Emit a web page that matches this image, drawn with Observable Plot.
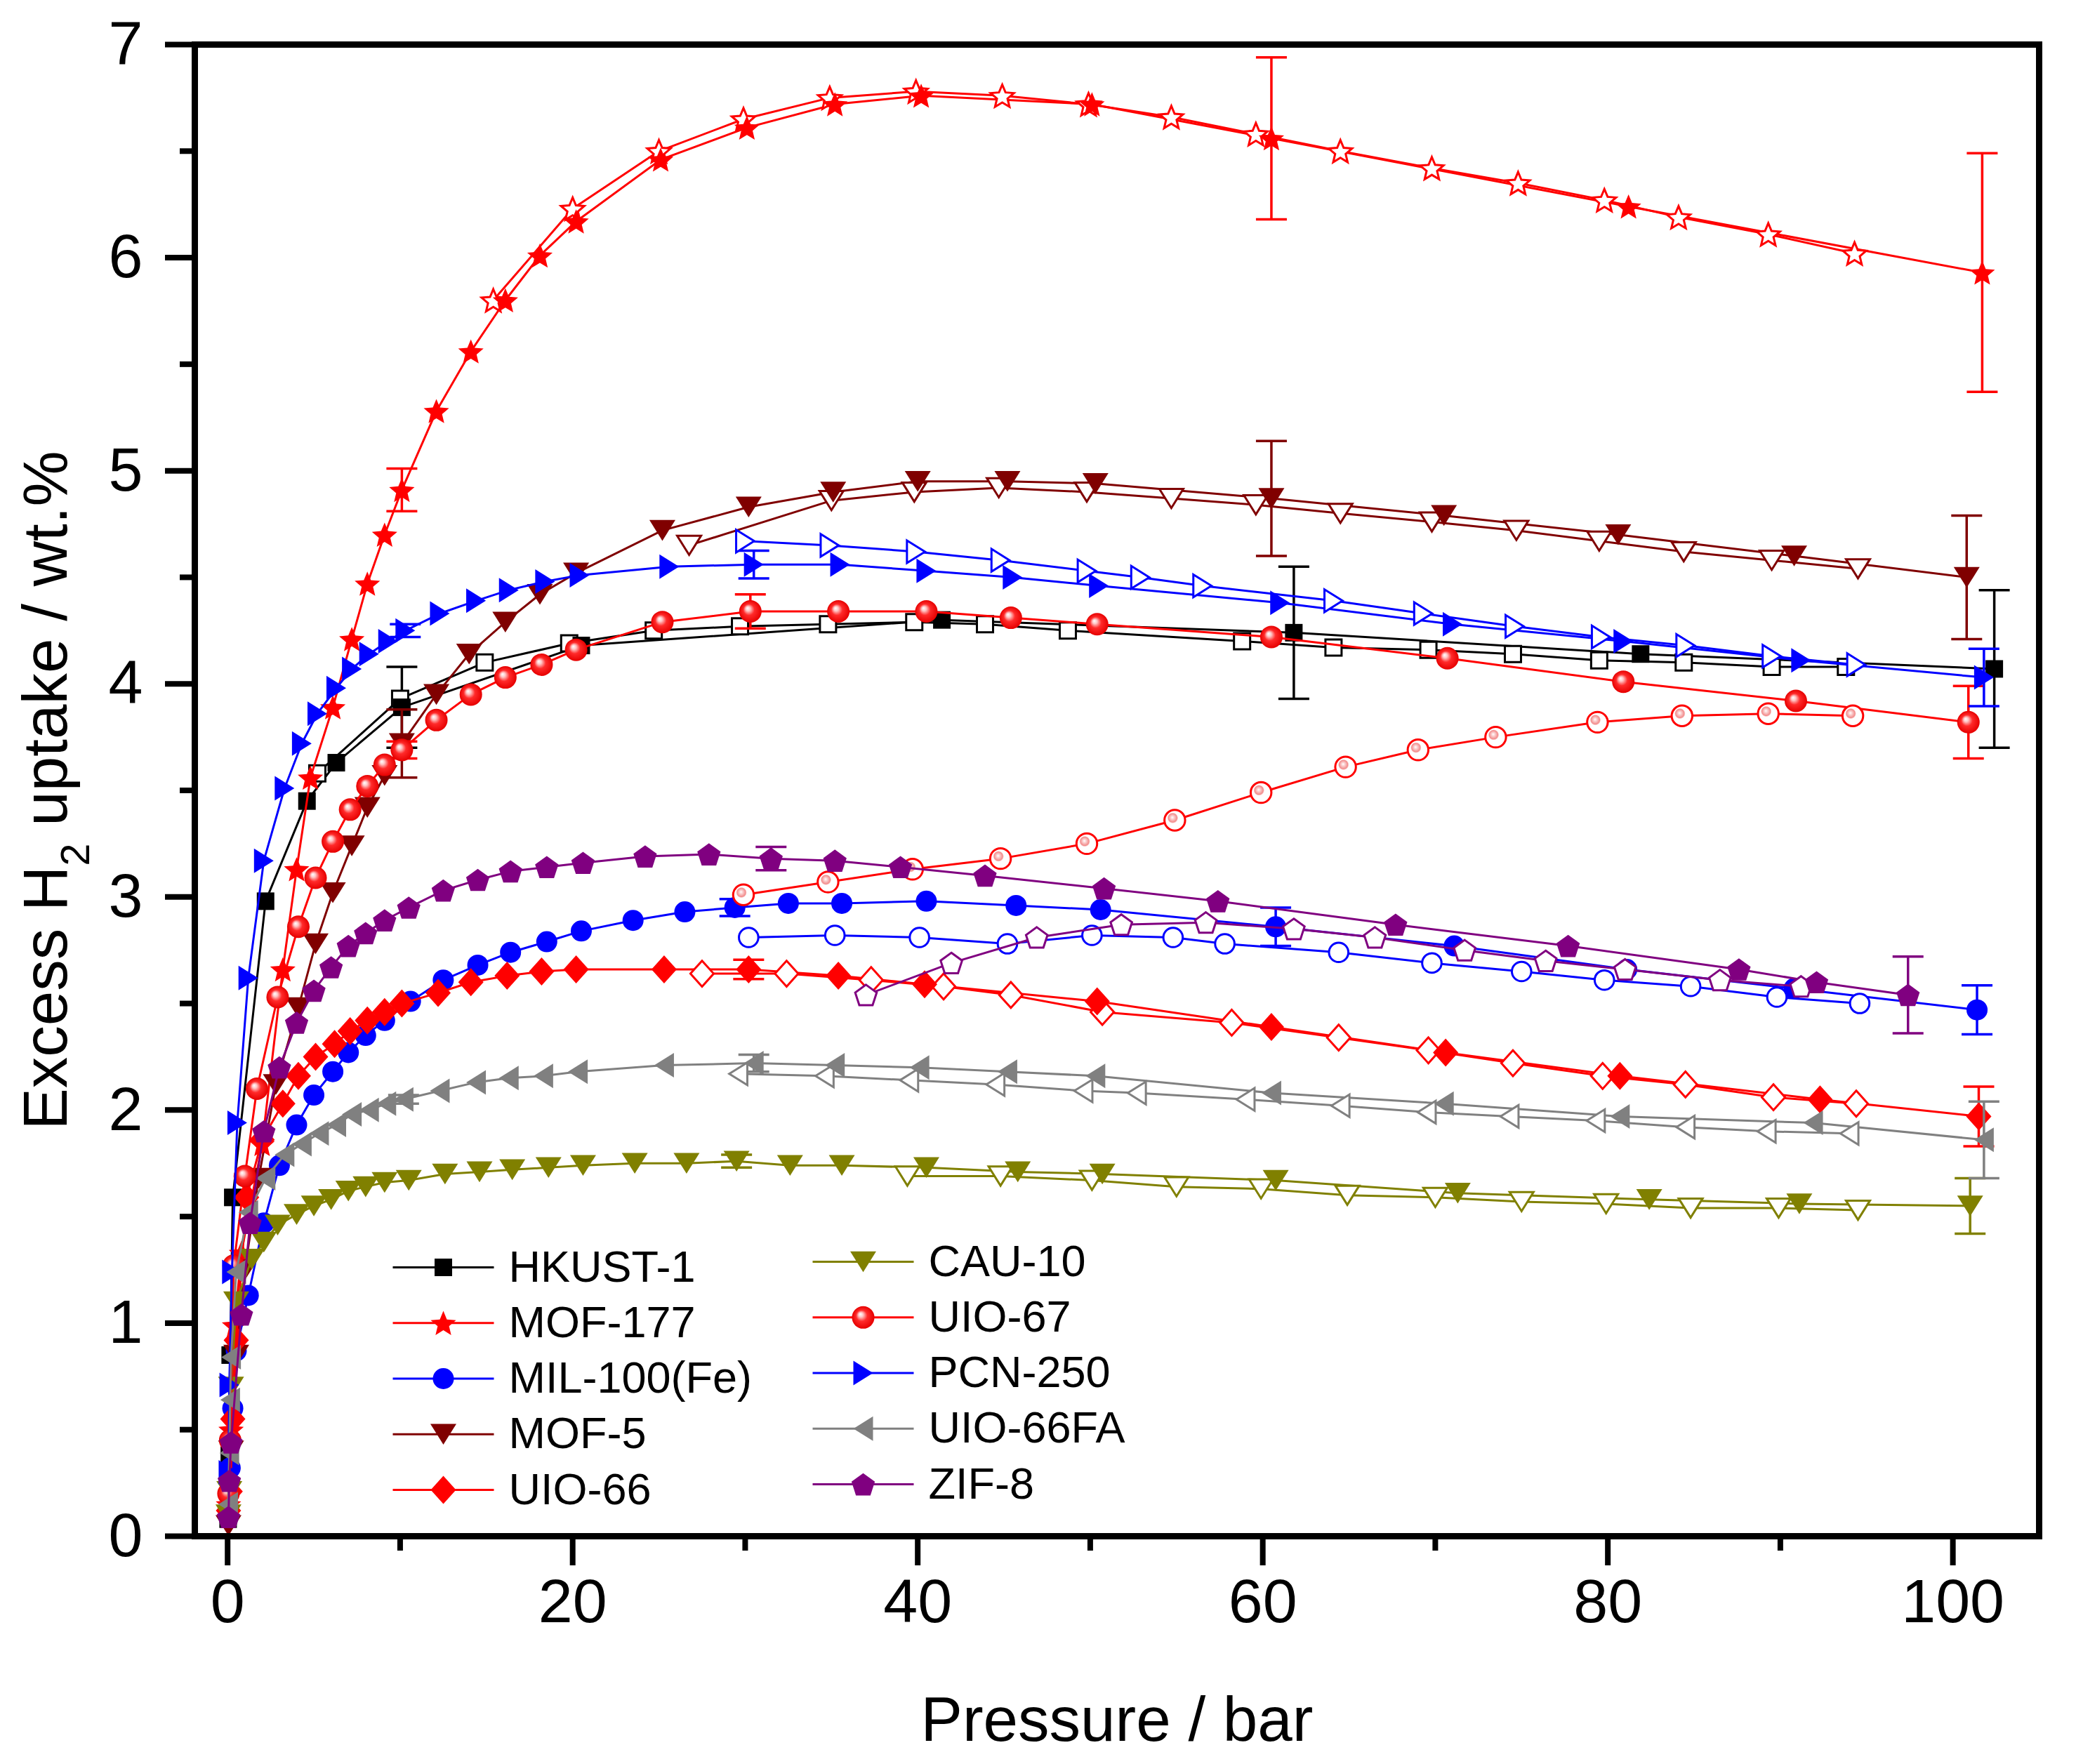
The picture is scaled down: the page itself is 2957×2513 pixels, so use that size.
<!DOCTYPE html>
<html>
<head>
<meta charset="utf-8">
<script src="https://cdn.jsdelivr.net/npm/d3@7"></script>
<script src="https://cdn.jsdelivr.net/npm/@observablehq/plot@0.6"></script>
<style>
html, body { margin: 0; padding: 0; background: #ffffff; }
#wrap { position: relative; width: 2957px; height: 2513px; background: #ffffff; }
</style>
</head>
<body>
<div id="wrap"></div>
<script>
// ---------------- DATA ----------------
const seriesNames = ["HKUST-1", "MOF-177", "MIL-100(Fe)", "MOF-5", "UIO-66", "CAU-10", "UIO-67", "PCN-250", "UIO-66FA", "ZIF-8"];
const seriesColors = ["#000000", "#ff0000", "#0000ff", "#800000", "#ff0000", "#808000", "#ff0000", "#0000ff", "#808080", "#800080"];

const xMajorTicks = [0, 20, 40, 60, 80, 100];
const xMinorTicks = [10, 30, 50, 70, 90];
const yMajorTicks = [0, 1, 2, 3, 4, 5, 6, 7];
const yMinorTicks = [0.5, 1.5, 2.5, 3.5, 4.5, 5.5, 6.5];
const xLabel = "Pressure / bar";
const yLabel = "Excess H2 uptake / wt.%";

// [pressure, uptake]
const hkustAds = [[0.03,0.08],[0.1,0.38],[0.15,0.85],[0.3,1.59],[2.2,2.98],[4.6,3.45],[6.3,3.63],[10.1,3.89],[20.5,4.18],[41.4,4.30],[61.8,4.24],[81.9,4.14],[102.4,4.07]];
const hkustDes = [[5.2,3.58],[10.0,3.93],[14.9,4.10],[19.8,4.19],[24.7,4.25],[29.7,4.27],[34.8,4.28],[39.8,4.29],[43.9,4.28],[48.7,4.25],[58.8,4.20],[64.1,4.17],[69.6,4.16],[74.5,4.14],[79.5,4.11],[84.4,4.10],[89.5,4.08],[93.8,4.08]];
const hkustErr = [[10.1,3.89,0.19],[61.8,4.24,0.31],[102.4,4.07,0.37]];

const mof177Ads = [[0.05,0.15],[0.2,0.5],[0.4,0.99],[0.8,1.33],[2.0,1.84],[3.2,2.66],[4.0,3.13],[4.8,3.56],[6.1,3.89],[7.2,4.21],[8.1,4.47],[9.1,4.70],[10.1,4.91],[12.1,5.28],[14.1,5.56],[16.1,5.80],[18.1,6.01],[20.2,6.17],[25.1,6.46],[30.1,6.61],[35.2,6.72],[40.2,6.76],[50.1,6.72],[60.5,6.56],[81.2,6.24],[101.7,5.93]];
const mof177Des = [[15.4,5.80],[20.0,6.23],[25.0,6.50],[29.9,6.65],[34.9,6.75],[39.9,6.78],[44.9,6.76],[49.9,6.72],[54.7,6.66],[59.6,6.58],[64.5,6.50],[69.8,6.42],[74.8,6.35],[79.8,6.27],[84.1,6.19],[89.3,6.11],[94.3,6.02]];
const mof177Err = [[10.1,4.91,0.10],[60.5,6.56,0.38],[101.7,5.93,0.56]];

const milAds = [[0.05,0.1],[0.15,0.32],[0.3,0.6],[0.5,0.87],[1.2,1.13],[2.1,1.47],[3.0,1.74],[4.0,1.93],[5.0,2.07],[6.1,2.18],[7.0,2.27],[8.0,2.35],[9.1,2.42],[10.6,2.51],[12.5,2.61],[14.5,2.68],[16.4,2.74],[18.5,2.79],[20.5,2.84],[23.5,2.89],[26.5,2.93],[29.4,2.95],[32.5,2.97],[35.6,2.97],[40.5,2.98],[45.7,2.96],[50.6,2.94],[60.75,2.86],[71.1,2.77],[81.1,2.66],[90.8,2.57],[101.4,2.47]];
const milDes = [[30.2,2.81],[35.2,2.82],[40.1,2.81],[45.2,2.78],[50.1,2.82],[54.8,2.81],[57.8,2.78],[64.4,2.74],[69.8,2.69],[75.0,2.65],[79.8,2.61],[84.8,2.58],[89.8,2.53],[94.6,2.50]];
const milErr = [[29.4,2.95,0.04],[60.75,2.86,0.09],[101.4,2.47,0.115]];

const mof5Ads = [[0.05,0.05],[0.2,0.4],[0.5,0.85],[1.0,1.25],[1.8,1.68],[2.8,2.12],[4.1,2.48],[5.1,2.78],[6.1,3.02],[7.2,3.24],[8.1,3.42],[9.1,3.57],[10.1,3.72],[12.1,3.95],[14.0,4.14],[16.1,4.29],[18.1,4.42],[20.2,4.52],[25.2,4.72],[30.2,4.83],[35.1,4.90],[40.0,4.95],[45.2,4.95],[50.3,4.94],[60.5,4.87],[70.5,4.79],[80.6,4.70],[90.8,4.60],[100.8,4.50]];
const mof5Des = [[26.75,4.65],[35.0,4.86],[39.8,4.90],[44.7,4.92],[49.8,4.90],[54.7,4.87],[59.6,4.84],[64.5,4.80],[69.8,4.76],[74.7,4.72],[79.5,4.67],[84.4,4.62],[89.5,4.58],[94.5,4.54]];
const mof5Err = [[10.1,3.72,0.16],[60.5,4.87,0.27],[100.8,4.50,0.29]];

const uio66Ads = [[0.05,0.12],[0.15,0.21],[0.3,0.55],[0.5,0.92],[1.1,1.59],[2.0,1.86],[3.2,2.03],[4.1,2.16],[5.1,2.25],[6.2,2.31],[7.1,2.37],[8.1,2.42],[9.1,2.46],[10.1,2.50],[12.2,2.55],[14.1,2.60],[16.2,2.63],[18.2,2.65],[20.2,2.66],[25.3,2.66],[30.2,2.66],[35.4,2.63],[40.4,2.59],[50.4,2.51],[60.5,2.39],[70.6,2.27],[80.7,2.16],[92.3,2.05],[101.5,1.97]];
const uio66Des = [[27.5,2.64],[32.4,2.64],[37.3,2.61],[41.5,2.58],[45.4,2.54],[50.7,2.46],[58.2,2.41],[64.4,2.34],[69.6,2.28],[74.5,2.22],[79.7,2.16],[84.5,2.12],[89.6,2.06],[94.4,2.03]];
const uio66Err = [[30.2,2.66,0.045],[101.5,1.97,0.14]];

const cau10Ads = [[0.05,0.1],[0.1,0.21],[0.2,0.7],[0.5,1.10],[1.4,1.30],[2.1,1.38],[2.9,1.46],[4.0,1.51],[5.0,1.55],[6.0,1.58],[7.0,1.62],[8.0,1.64],[9.1,1.66],[10.5,1.67],[12.6,1.70],[14.6,1.71],[16.5,1.72],[18.6,1.73],[20.6,1.74],[23.6,1.75],[26.6,1.75],[29.5,1.76],[32.6,1.74],[35.6,1.74],[40.5,1.73],[45.8,1.71],[50.7,1.70],[60.75,1.67],[71.3,1.61],[82.4,1.58],[91.1,1.56],[101.0,1.55]];
const cau10Des = [[39.4,1.69],[44.8,1.69],[50.1,1.67],[55.0,1.64],[59.9,1.63],[64.9,1.60],[70.0,1.59],[75.0,1.57],[79.9,1.56],[84.8,1.54],[89.9,1.54],[94.5,1.53]];
const cau10Err = [[29.5,1.76,0.03],[101.0,1.55,0.13]];

const uio67Ads = [[0.05,0.2],[0.15,0.45],[0.35,1.27],[1.0,1.69],[1.7,2.10],[2.9,2.53],[4.1,2.86],[5.1,3.09],[6.1,3.26],[7.1,3.41],[8.1,3.52],[9.1,3.62],[10.1,3.69],[12.1,3.83],[14.1,3.95],[16.1,4.03],[18.2,4.09],[20.2,4.16],[25.2,4.29],[30.3,4.34],[35.4,4.34],[40.5,4.34],[45.4,4.31],[50.4,4.28],[60.5,4.22],[70.7,4.12],[80.9,4.01],[90.9,3.92],[100.9,3.82]];
const uio67Des = [[29.9,3.01],[34.8,3.07],[39.7,3.13],[44.8,3.18],[49.8,3.25],[54.9,3.36],[59.9,3.49],[64.8,3.61],[69.0,3.69],[73.5,3.75],[79.4,3.82],[84.3,3.85],[89.3,3.86],[94.2,3.85]];
const uio67Err = [[10.1,3.69,0.04],[30.3,4.34,0.08],[100.9,3.82,0.17]];

const pcnAds = [[0.05,0.3],[0.1,0.71],[0.25,1.24],[0.56,1.94],[1.2,2.62],[2.1,3.17],[3.3,3.51],[4.3,3.72],[5.2,3.86],[6.3,3.98],[7.2,4.07],[8.2,4.14],[9.3,4.20],[10.3,4.25],[12.3,4.33],[14.4,4.39],[16.3,4.44],[18.4,4.48],[20.4,4.51],[25.6,4.55],[30.5,4.56],[35.5,4.56],[40.5,4.53],[45.5,4.50],[50.5,4.46],[61.0,4.38],[71.0,4.28],[80.9,4.20],[91.2,4.11],[101.8,4.03]];
const pcnDes = [[30.0,4.67],[34.9,4.65],[39.9,4.62],[44.8,4.58],[49.8,4.53],[52.9,4.50],[56.5,4.46],[64.1,4.39],[69.3,4.33],[74.6,4.27],[79.6,4.22],[84.5,4.18],[89.5,4.13],[94.4,4.09]];
const pcnErr = [[10.3,4.25,0.03],[30.5,4.56,0.065],[101.8,4.03,0.135]];

const uio66faAds = [[0.03,0.15],[0.1,0.39],[0.15,0.64],[0.2,0.84],[0.5,1.24],[1.2,1.52],[2.2,1.68],[3.3,1.79],[4.3,1.84],[5.3,1.89],[6.3,1.93],[7.2,1.98],[8.2,2.00],[9.2,2.03],[10.2,2.05],[12.3,2.09],[14.4,2.13],[16.3,2.15],[18.3,2.16],[20.3,2.18],[25.3,2.21],[30.5,2.22],[35.2,2.21],[40.1,2.20],[45.2,2.18],[50.3,2.16],[60.5,2.08],[70.5,2.03],[80.7,1.97],[91.9,1.94],[101.8,1.86]];
const uio66faDes = [[29.6,2.17],[34.6,2.16],[39.5,2.14],[44.5,2.12],[49.6,2.09],[52.7,2.08],[59.0,2.05],[64.5,2.02],[69.5,1.99],[74.3,1.97],[79.3,1.95],[84.5,1.92],[89.2,1.90],[94.0,1.89]];
const uio66faErr = [[10.2,2.05,0.02],[30.5,2.22,0.04],[101.8,1.86,0.18]];

const zif8Ads = [[0.05,0.09],[0.1,0.26],[0.2,0.44],[0.8,1.04],[1.3,1.47],[2.1,1.90],[3.0,2.20],[4.0,2.41],[5.0,2.56],[6.0,2.67],[7.0,2.77],[8.0,2.83],[9.1,2.89],[10.5,2.95],[12.5,3.03],[14.5,3.08],[16.4,3.12],[18.5,3.14],[20.6,3.16],[24.2,3.19],[27.9,3.20],[31.5,3.18],[35.2,3.17],[39.0,3.14],[43.9,3.10],[50.8,3.04],[57.4,2.98],[67.7,2.87],[77.7,2.77],[87.6,2.66],[92.1,2.60],[97.4,2.54]];
const zif8Des = [[37.0,2.54],[41.95,2.69],[46.9,2.81],[51.8,2.87],[56.7,2.88],[61.8,2.85],[66.5,2.81],[71.7,2.75],[76.4,2.70],[81.0,2.66],[86.5,2.61],[91.2,2.58]];
const zif8Err = [[31.5,3.18,0.055],[97.4,2.54,0.18]];

// ---------------- SYMBOLS ----------------
function shape(pts) {
  return {
    draw(ctx, size) {
      const r = Math.sqrt(size / Math.PI);
      pts.forEach(([a, b], i) => i ? ctx.lineTo(a * r, b * r) : ctx.moveTo(a * r, b * r));
      ctx.closePath();
    }
  };
}
const symSquare = shape([[-1,-1],[1,-1],[1,1],[-1,1]]);
const symDown = shape([[-1,-0.8],[1,-0.8],[0,0.8]]);
const symRight = shape([[-0.8,-1],[0.8,0],[-0.8,1]]);
const symLeft = shape([[0.8,-1],[-0.8,0],[0.8,1]]);
const symDiamond = shape([[0,-1],[0.9,0],[0,1],[-0.9,0]]);
const symPent = shape(d3.range(5).map(k => { const a = -Math.PI/2 + k*2*Math.PI/5; return [Math.cos(a), Math.sin(a) + 0.095]; }));
const symStar = shape(d3.range(10).map(k => { const a = -Math.PI/2 + k*Math.PI/5; const q = k % 2 ? 0.45 : 1; return [q*Math.cos(a), q*Math.sin(a) + 0.095]; }));
const symHLine = { draw(ctx, size) { const r = Math.sqrt(size / Math.PI); ctx.moveTo(-r, 0); ctx.lineTo(r, 0); } };

const seriesData = [
  {ads: hkustAds, des: hkustDes, err: hkustErr, sym: symSquare, r: 12.5},
  {ads: mof177Ads, des: mof177Des, err: mof177Err, sym: symStar, r: 19},
  {ads: milAds, des: milDes, err: milErr, sym: "circle", r: 15},
  {ads: mof5Ads, des: mof5Des, err: mof5Err, sym: symDown, r: 18.5},
  {ads: uio66Ads, des: uio66Des, err: uio66Err, sym: symDiamond, r: 20},
  {ads: cau10Ads, des: cau10Des, err: cau10Err, sym: symDown, r: 18.5},
  {ads: uio67Ads, des: uio67Des, err: uio67Err, sym: "circle", r: 16, fill: "url(#ball)", openFill: "url(#ballOpen)"},
  {ads: pcnAds, des: pcnDes, err: pcnErr, sym: symRight, r: 17.5},
  {ads: uio66faAds, des: uio66faDes, err: uio66faErr, sym: symLeft, r: 17.5},
  {ads: zif8Ads, des: zif8Des, err: zif8Err, sym: symPent, r: 17.5}
];

const FONT = "'Liberation Sans', Arial, Helvetica, sans-serif";
const X = d => d[0], Y = d => d[1];
const intFmt = d => String(d);

const dataMarks = [];
seriesData.forEach((s, i) => {
  const c = seriesColors[i];
  dataMarks.push(Plot.line(s.ads, {x: X, y: Y, stroke: c, strokeWidth: 3}));
  dataMarks.push(Plot.line(s.des, {x: X, y: Y, stroke: c, strokeWidth: 3}));
  dataMarks.push(Plot.ruleX(s.err, {x: X, y1: d => d[1] - d[2], y2: d => d[1] + d[2], stroke: c, strokeWidth: 3.5}));
  dataMarks.push(Plot.dot(s.err, {x: X, y: d => d[1] - d[2], symbol: symHLine, r: 22, stroke: c, strokeWidth: 3.5}));
  dataMarks.push(Plot.dot(s.err, {x: X, y: d => d[1] + d[2], symbol: symHLine, r: 22, stroke: c, strokeWidth: 3.5}));
  dataMarks.push(Plot.dot(s.des, {x: X, y: Y, symbol: s.sym, r: s.r * 0.92, fill: s.openFill || "white", stroke: c, strokeWidth: 3}));
  dataMarks.push(Plot.dot(s.ads, {x: X, y: Y, symbol: s.sym, r: s.r, fill: s.fill || c}));
});

const chart = Plot.plot({
  width: 2957,
  height: 2513,
  marginLeft: 277,
  marginRight: 53,
  marginTop: 63,
  marginBottom: 325,
  x: {domain: [-1.9, 105]},
  y: {domain: [0, 7]},
  style: {fontFamily: FONT, fontSize: "88px", background: "white", color: "black"},
  marks: [
    ...dataMarks,
    Plot.axisX({ticks: xMajorTicks, tickSize: 42, tickPadding: 18, strokeWidth: 8, fontSize: 88, tickFormat: intFmt, label: null}),
    Plot.axisX({ticks: xMinorTicks, tickSize: 21, strokeWidth: 8, tickFormat: () => "", label: null}),
    Plot.axisY({ticks: yMajorTicks, tickSize: 42, tickPadding: 32, strokeWidth: 8, fontSize: 88, tickFormat: intFmt, label: null}),
    Plot.axisY({ticks: yMinorTicks, tickSize: 21, strokeWidth: 8, tickFormat: () => "", label: null}),
    Plot.frame({stroke: "black", strokeWidth: 9}),
    Plot.text([xLabel], {text: d => d, frameAnchor: "bottom", textAnchor: "middle", lineAnchor: "middle", dy: 263, fontSize: 89, fill: "black"}),
    Plot.text([yLabel], {text: d => d, frameAnchor: "left", textAnchor: "middle", lineAnchor: "middle", dx: -211, rotate: -90, fontSize: 89, fill: "black"})
  ]
});

d3.select(chart).insert("defs", ":first-child").html(
  '<radialGradient id="ball" cx="0.5" cy="0.5" r="0.5" fx="0.37" fy="0.35">' +
  '<stop offset="0" stop-color="#ffffff"/><stop offset="0.2" stop-color="#ffc8c8"/>' +
  '<stop offset="0.5" stop-color="#ff2a2a"/><stop offset="1" stop-color="#e60000"/></radialGradient>' +
  '<radialGradient id="ballOpen" cx="0.42" cy="0.42" r="0.5" fx="0.38" fy="0.36">' +
  '<stop offset="0" stop-color="#ffffff"/><stop offset="0.15" stop-color="#fbd4d4"/>' +
  '<stop offset="0.42" stop-color="#f28c8c"/><stop offset="0.52" stop-color="#ffffff"/><stop offset="1" stop-color="#ffffff"/></radialGradient>'
);

// subscript in the y label
d3.select(chart).selectAll("text").filter(function () { return this.textContent === yLabel; }).each(function () {
  const t = d3.select(this);
  t.text(null);
  t.append("tspan").text("Excess H");
  t.append("tspan").attr("baseline-shift", "sub").attr("font-size", "65%").text("2");
  t.append("tspan").text(" uptake / wt.%");
});

// ---------------- LEGEND ----------------
const legendRows = seriesNames.map((name, i) => ({name, i, col: i < 5 ? 0 : 1, row: (i % 5) - (i < 5 ? 0 : 0.1)}));
const legendMarks = [];
legendRows.forEach(d => {
  const s = seriesData[d.i], c = seriesColors[d.i];
  legendMarks.push(Plot.dot([d], {x: "col", y: "row", symbol: symHLine, r: 72, stroke: c, strokeWidth: 3}));
  legendMarks.push(Plot.dot([d], {x: "col", y: "row", symbol: s.sym, r: s.r, fill: s.fill || c}));
  legendMarks.push(Plot.text([d], {x: "col", y: "row", text: "name", dx: 93, textAnchor: "start", fontSize: 63, fill: "black"}));
});
const legend = Plot.plot({
  width: 2957,
  height: 2513,
  margin: 0,
  x: {domain: [0, 1], range: [631, 1229], axis: null},
  y: {domain: [0, 4], range: [1805, 2122], axis: null},
  style: {fontFamily: FONT, background: "transparent"},
  marks: legendMarks
});
legend.style.position = "absolute";
legend.style.left = "0px";
legend.style.top = "0px";

const wrap = document.getElementById("wrap");
wrap.appendChild(chart);
wrap.appendChild(legend);
</script>
</body>
</html>
